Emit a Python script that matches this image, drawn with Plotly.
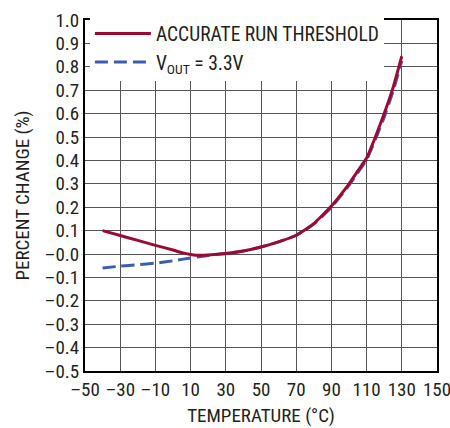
import plotly.graph_objects as go

temp_red = [-40, -30, -20, -10, 0, 5, 10, 13, 20, 30, 40, 50, 60, 70, 80, 90, 100, 105, 110, 115, 120, 125, 128, 130]
run_threshold = [0.1, 0.079, 0.058, 0.037, 0.017, 0.006, -0.002, -0.005, -0.004, 0.002, 0.013, 0.03, 0.052, 0.08, 0.13, 0.205, 0.3, 0.355, 0.41, 0.5, 0.6, 0.71, 0.79, 0.845]

temp_blue = [-40, -30, -20, -10, 0, 10, 20, 30, 40, 50, 60, 70, 80, 90, 100, 105, 110, 115, 120, 125, 130]
vout = [-0.06, -0.052, -0.046, -0.039, -0.029, -0.017, -0.006, 0.002, 0.013, 0.03, 0.052, 0.08, 0.128, 0.2, 0.293, 0.348, 0.403, 0.49, 0.585, 0.695, 0.825]

x_ticks = [-50, -30, -10, 10, 30, 50, 70, 90, 110, 130, 150]
x_labels = ["\u201350", "\u201330", "\u201310", "10", "30", "50", "70", "90", "110", "130", "150"]
y_ticks = [1.0, 0.9, 0.8, 0.7, 0.6, 0.5, 0.4, 0.3, 0.2, 0.1, 0.0, -0.1, -0.2, -0.3, -0.4, -0.5]
y_labels = ["1.0", "0.9", "0.8", "0.7", "0.6", "0.5", "0.4", "0.3", "0.2", "0.1", "\u20130.0",
            "\u20130.1", "\u20130.2", "\u20130.3", "\u20130.4", "\u20130.5"]

FONT = "Roboto Condensed, Liberation Sans Narrow, Arial Narrow, sans-serif"
FS = 19
RED = "#9C0A33"
BLUE = "#3D5DB3"
GRID = "#555555"
TXT = "#231F20"

fig = go.Figure()
fig.add_trace(go.Scatter(
    x=temp_blue, y=vout, mode="lines", name="V<sub>OUT</sub> = 3.3V",
    line=dict(color=BLUE, width=3, dash="13px,6px", shape="spline", smoothing=0.5),
    legendrank=2,
))
fig.add_trace(go.Scatter(
    x=temp_red, y=run_threshold, mode="lines", name="ACCURATE RUN THRESHOLD",
    line=dict(color=RED, width=3, shape="spline", smoothing=0.4),
    legendrank=1,
))

fig.update_layout(
    template="none",
    width=450, height=428,
    margin=dict(l=85, r=13, t=20, b=57, autoexpand=False),
    paper_bgcolor="white", plot_bgcolor="white",
    font=dict(family=FONT, size=FS, color=TXT),
    showlegend=True,
    legend=dict(
        x=0.014, y=1.016, xanchor="left", yanchor="top",
        bgcolor="white", borderwidth=0,
        font=dict(family=FONT, size=19.5, color=TXT),
        itemwidth=56, tracegroupgap=0,
    ),
    xaxis=dict(
        range=[-50, 150], tickvals=x_ticks, ticktext=x_labels,
        showgrid=True, gridcolor=GRID, gridwidth=1,
        showline=True, linecolor="black", linewidth=2, mirror=True,
        ticks="", zeroline=False, automargin=False, ticklabeloverflow="allow",
        tickfont=dict(family=FONT, size=FS, color=TXT),
        title=dict(text="TEMPERATURE (\u00b0C)", font=dict(family=FONT, size=FS, color=TXT), standoff=9),
    ),
    yaxis=dict(
        range=[-0.5, 1.0], tickvals=y_ticks, ticktext=y_labels,
        showgrid=True, gridcolor=GRID, gridwidth=1,
        showline=True, linecolor="black", linewidth=2, mirror=True,
        ticks="", zeroline=False, automargin=False, ticklabeloverflow="allow",
        tickfont=dict(family=FONT, size=FS, color=TXT),
        title=dict(text="PERCENT CHANGE (%)", font=dict(family=FONT, size=FS, color=TXT), standoff=10),
    ),
)

fig.write_html("out.html", config={"displayModeBar": False},
               post_script="document.body.style.margin='0px';")
